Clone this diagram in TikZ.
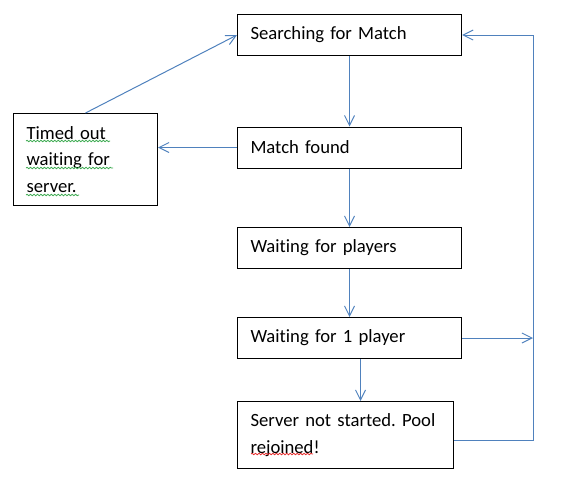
\documentclass[tikz,border=0pt]{standalone}
\usepackage{fontspec}
\setmainfont{Carlito}[Ligatures={NoCommon}]
\usetikzlibrary{arrows.meta,decorations.pathmorphing}
\definecolor{link}{RGB}{79,129,189}
\definecolor{spellgreen}{RGB}{60,170,80}
\definecolor{spellred}{RGB}{230,40,40}
\frenchspacing

\tikzset{
  box/.style={draw,line width=0.75pt,anchor=north west,align=left,
    inner xsep=9.75pt,inner ysep=0pt,font=\fontsize{14}{20}\selectfont},
  arr/.style={draw=link,line width=0.75pt,-{Straight Barb[length=7.5pt,width=7.5pt]}},
  squiggle/.style={line width=0.6pt,decorate,
    decoration={snake,amplitude=0.55pt,segment length=2.6pt}}
}

\begin{document}
\begin{tikzpicture}[x=0.75pt,y=-0.75pt]
  \useasboundingbox (0,0) rectangle (563,479);
  % states
  \node[box,text width=148.5pt,minimum height=30.75pt] (search) at (237,14) {Searching for Match};
  \node[box,text width=148.5pt,minimum height=30.75pt] (found) at (237,126.5) {Match found};
  \node[box,text width=148.5pt,minimum height=30.75pt] (players) at (237,227) {Waiting for players};
  \node[box,text width=148.5pt,minimum height=30.75pt] (one) at (237,317) {Waiting for 1 player};
  \node[box,text width=142.5pt,minimum height=50.25pt] (server) at (237,401) {Server not started. Pool\\rejoined!};
  \node[box,text width=88.5pt,minimum height=69pt] (timed) at (13,113) {Timed out\\waiting for\\server.};
  \coordinate (side) at (533,337);
  \coordinate (corner) at (533,440);
  % transitions
  \draw[arr] (search.south) -- (found.north);
  \draw[arr] (found.west) -- (found.west -| timed.east);
  \draw[arr] (timed.north) -- (search.west);
  \draw[arr] (found.south) -- (players.north);
  \draw[arr] (players.south) -- (one.north);
  \draw[arr] ([xshift=8.25pt]one.south) -- ([xshift=8.25pt]one.south |- server.north);
  \draw[arr] (one.east) -- (one.east -| side);
  \draw[arr] (server.east |- corner) -- (corner) -- (corner |- search.east) -- (search.east);
  % spell check marks
  \draw[spellgreen,squiggle] (26,141) -- (110,141);
  \draw[spellgreen,squiggle] (26,168) -- (113,168);
  \draw[spellgreen,squiggle] (26,195) -- (79,195);
  \draw[spellred,squiggle] (251,454) -- (313,454);
\end{tikzpicture}
\end{document}
